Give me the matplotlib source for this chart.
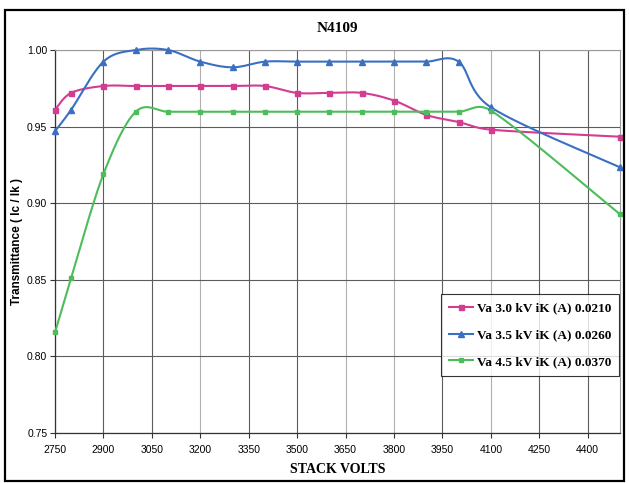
import matplotlib
matplotlib.use("Agg")
import matplotlib.pyplot as plt
from matplotlib.patches import Rectangle
import numpy as np

# stack volts (x) and transmittance Ic/Ik for each anode voltage
VOLTS = [2750, 2800, 2900, 3000, 3100, 3200, 3300, 3400, 3500, 3600,
         3700, 3800, 3900, 4000, 4100, 4500]
T_VA30 = [0.961, 0.972, 0.9765, 0.9765, 0.9765, 0.9765, 0.9765, 0.9765, 0.972, 0.972,
          0.972, 0.967, 0.9576, 0.953, 0.948, 0.9434]
T_VA35 = [0.947, 0.961, 0.9924, 1.000, 1.000, 0.9924, 0.9887, 0.9924, 0.9924, 0.9924,
          0.9924, 0.9924, 0.9924, 0.9924, 0.9626, 0.9234]
T_VA45 = [0.8157, 0.851, 0.919, 0.9597, 0.9597, 0.9597, 0.9597, 0.9597, 0.9597, 0.9597,
          0.9597, 0.9597, 0.9597, 0.9597, 0.9605, 0.8928]
SERIES = [T_VA30, T_VA35, T_VA45]
LABELS = ["Va 3.0 kV iK (A) 0.0210",
          "Va 3.5 kV iK (A) 0.0260",
          "Va 4.5 kV iK (A) 0.0370"]
X_TICKS = list(range(2750, 4401, 150))
Y_TICKS = [0.75, 0.80, 0.85, 0.90, 0.95, 1.00]

COLORS = ["#d43c92", "#3b6fc2", "#4dbd5c"]
MARKERS = ["s", "^", "s"]
MSIZES = [3.6, 4.2, 2.4]

SERIF = "Liberation Serif"
SANS = "Liberation Sans"


def smooth(ax, xs, ys, n=30):
    # Excel-style smoothed line: Catmull-Rom bezier in display space,
    # control arms limited to half the segment length
    pts = ax.transData.transform(np.column_stack([xs, ys]))
    out = [pts[0]]
    last = len(pts) - 1
    for i in range(last):
        p0, p1 = pts[max(i - 1, 0)], pts[i]
        p2, p3 = pts[i + 1], pts[min(i + 2, last)]
        d = np.linalg.norm(p2 - p1)
        a1, a2 = (p2 - p0) / 6, (p3 - p1) / 6
        for a in (a1, a2):
            la = np.linalg.norm(a)
            if la > d / 2:
                a *= (d / 2) / la
        c1, c2 = p1 + a1, p2 - a2
        t = np.linspace(0, 1, n)[1:, None]
        seg = ((1 - t) ** 3 * p1 + 3 * (1 - t) ** 2 * t * c1
               + 3 * (1 - t) * t ** 2 * c2 + t ** 3 * p2)
        out.extend(seg)
    return ax.transData.inverted().transform(np.array(out))


fig = plt.figure(figsize=(6.29, 4.83), dpi=100)
ax = fig.add_axes([55 / 629, 1 - 433 / 483, 565 / 629, 383 / 483])
ax.set_xlim(2750, 4500)
ax.set_ylim(0.75, 1.0)

for ys, col, mk, ms, lab in zip(SERIES, COLORS, MARKERS, MSIZES, LABELS):
    sm = smooth(ax, VOLTS, ys)
    ax.plot(sm[:, 0], sm[:, 1], color=col, lw=1.5, zorder=3,
            solid_capstyle="round", clip_on=False)
    ax.plot(VOLTS, ys, ls="none", marker=mk, ms=ms, color=col, zorder=4, clip_on=False)
    ax.plot([], [], color=col, lw=1.5, marker=mk, ms=ms, label=lab)

ax.set_xticks(X_TICKS)
ax.set_xticklabels([str(v) for v in X_TICKS], fontfamily=SANS, fontsize=7.5)
ax.set_yticks(Y_TICKS)
ax.set_yticklabels([f"{v:.2f}" for v in Y_TICKS], fontfamily=SANS, fontsize=7.5)
ax.tick_params(length=3.5, width=0.8, color="#333333", pad=2)
ax.tick_params(axis="x", pad=5)

ax.grid(True, color="#5c5c5c", lw=0.8, zorder=1)
light = {3200, 3650, 3800, 4100}
for v, gl in zip(X_TICKS, ax.xaxis.get_gridlines()):
    if v in light:
        gl.set_color("#b0b0b0")
ax.set_axisbelow(True)
for side in ("left", "bottom"):
    ax.spines[side].set_color("#333333")
    ax.spines[side].set_linewidth(0.9)
for side in ("top", "right"):
    ax.spines[side].set_color("#9a9a9a")
    ax.spines[side].set_linewidth(0.8)

ax.set_title("N4109", fontfamily=SERIF, fontweight="bold", fontsize=11, pad=13)
ax.set_xlabel("STACK VOLTS", fontfamily=SERIF, fontweight="bold", fontsize=10, labelpad=6)
ax.set_ylabel("Transmittance ( Ic / Ik )", fontfamily=SANS, fontweight="bold",
              fontsize=8.5, labelpad=3)

leg = ax.legend(loc="upper left", bbox_to_anchor=(0.683, 0.362), frameon=True,
                fancybox=False, prop={"family": SERIF, "weight": "bold", "size": 9.5},
                handlelength=1.8, handletextpad=0.3, labelspacing=1.1,
                borderpad=0.6, borderaxespad=0)
leg.get_frame().set_edgecolor("black")
leg.get_frame().set_linewidth(0.8)

fig.patches.append(Rectangle((5 / 629, 2 / 483), 619 / 629, 471 / 483,
                             transform=fig.transFigure, fill=False,
                             ec="black", lw=1.6))

fig.savefig("out.png", dpi=100, facecolor="white")
